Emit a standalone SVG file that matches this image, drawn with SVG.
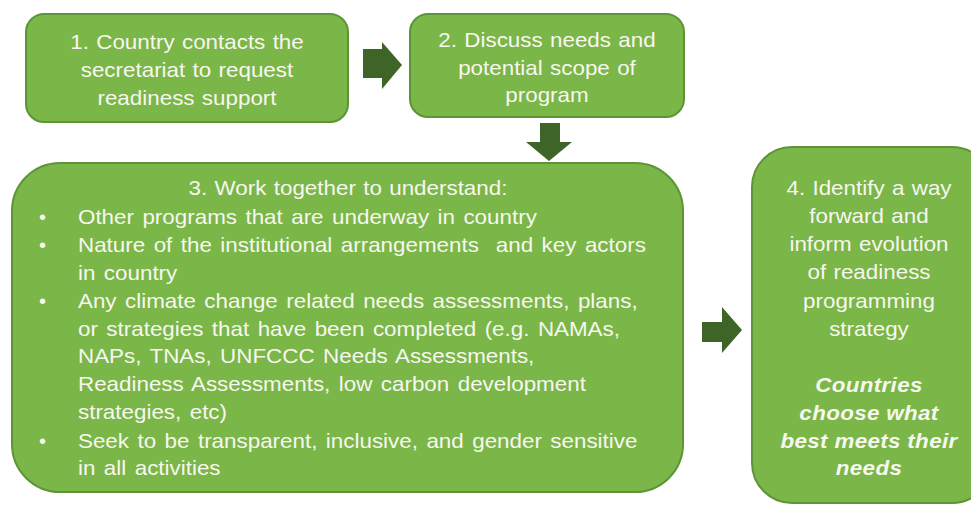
<svg xmlns="http://www.w3.org/2000/svg" width="971" height="507" viewBox="0 0 971 507">
  <style>
    .box { fill: #7ab648; stroke: #5e9438; stroke-width: 2; }
    .arrow { fill: #3e6428; }
    text { font-family: "Liberation Sans", Arial, sans-serif; font-size: 20px; fill: #f7f7ef; }
    .c { text-anchor: middle; word-spacing: 1px; }
    .list { word-spacing: 2px; }
    .bi { font-weight: bold; font-style: italic; letter-spacing: 0.3px; word-spacing: 0; }
  </style>
  <rect width="971" height="507" fill="#ffffff"/>

  <g id="connectors">
    <!-- step 1 to step 2 -->
    <polygon class="arrow" points="363,49 382,49 382,42 402,65 382,89 382,78 363,78"/>
    <!-- step 2 to step 3 -->
    <polygon class="arrow" points="540,123 560,123 560,142 572,142 549,161 526,142 540,142"/>
    <!-- step 3 to step 4 -->
    <polygon class="arrow" points="702,322 722,322 722,307 742,330 722,353 722,342 702,342"/>
  </g>

  <!-- text blocks are widened 12% about their anchor x -->
  <g id="step1">
    <rect class="box" x="26" y="14" width="322" height="108" rx="18"/>
    <g transform="matrix(1.12 0 0 1 -22.44 0)">
      <text class="c" x="187" y="49">1. Country contacts the</text>
      <text class="c" x="187" y="77">secretariat to request</text>
      <text class="c" x="187" y="105">readiness support</text>
    </g>
  </g>

  <g id="step2">
    <rect class="box" x="410" y="14" width="274" height="103" rx="18"/>
    <g transform="matrix(1.12 0 0 1 -65.64 0)">
      <text class="c" x="547" y="47">2. Discuss needs and</text>
      <text class="c" x="547" y="75">potential scope of</text>
      <text class="c" x="547" y="102">program</text>
    </g>
  </g>

  <g id="step3">
    <rect class="box" x="12" y="163" width="671" height="329" rx="48"/>
    <g transform="matrix(1.12 0 0 1 -41.76 0)">
      <text class="c" x="348" y="195">3. Work together to understand:</text>
    </g>
    <text x="39" y="224">•</text>
    <text x="39" y="252">•</text>
    <text x="39" y="308">•</text>
    <text x="39" y="448">•</text>
    <g transform="matrix(1.12 0 0 1 -9.36 0)">
      <text class="list" x="78" y="224">Other programs that are underway in country</text>
      <text class="list" x="78" y="252" xml:space="preserve">Nature of the institutional arrangements  and key actors</text>
      <text class="list" x="78" y="280">in country</text>
      <text class="list" x="78" y="308">Any climate change related needs assessments, plans,</text>
      <text class="list" x="78" y="336">or strategies that have been completed (e.g. NAMAs,</text>
      <text class="list" x="78" y="363">NAPs, TNAs, UNFCCC Needs Assessments,</text>
      <text class="list" x="78" y="391">Readiness Assessments, low carbon development</text>
      <text class="list" x="78" y="419">strategies, etc)</text>
      <text class="list" x="78" y="448">Seek to be transparent, inclusive, and gender sensitive</text>
      <text class="list" x="78" y="475">in all activities</text>
    </g>
  </g>

  <g id="step4">
    <rect class="box" x="752" y="147" width="240" height="356" rx="40"/>
    <g transform="matrix(1.12 0 0 1 -104.28 0)">
      <text class="c" x="869" y="195">4. Identify a way</text>
      <text class="c" x="869" y="223">forward and</text>
      <text class="c" x="869" y="251">inform evolution</text>
      <text class="c" x="869" y="279">of readiness</text>
      <text class="c" x="869" y="308">programming</text>
      <text class="c" x="869" y="336">strategy</text>
      <text class="c bi" x="869" y="392">Countries</text>
      <text class="c bi" x="869" y="420">choose what</text>
      <text class="c bi" x="869" y="448">best meets their</text>
      <text class="c bi" x="869" y="475">needs</text>
    </g>
  </g>
</svg>
